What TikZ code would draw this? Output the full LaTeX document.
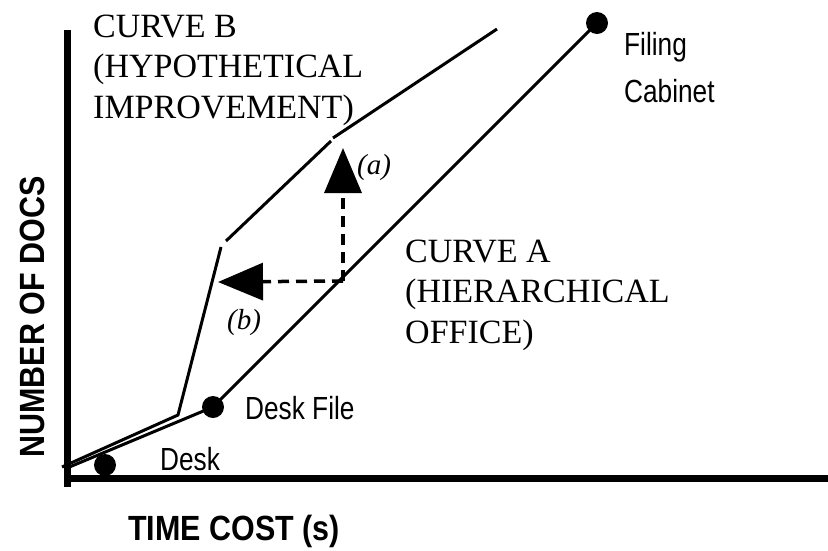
\documentclass[tikz,border=0pt]{standalone}
\usepackage{fontspec}
\setmainfont{Liberation Serif}
\newfontfamily\labelfont[FakeStretch=0.82]{Liberation Sans}
\newfontfamily\axisfont[FakeStretch=0.87]{Liberation Sans}
\usetikzlibrary{arrows.meta, positioning}

\tikzset{
  curve/.style={line width=3pt},
  axis/.style={line width=7pt},
  office/.style={circle, fill, inner sep=0pt, minimum size=22pt},
  move/.style={line width=3.5pt, dash pattern=on 11pt off 7pt, -{Triangle[length=45pt, width=37pt]}},
  curvelabel/.style={anchor=base west, inner sep=0pt, align=left, font=\fontsize{34}{40.5}\selectfont},
  itemlabel/.style={anchor=base west, inner sep=0pt, font=\labelfont\fontsize{32}{47}\selectfont},
  axislabel/.style={inner sep=0pt, font=\axisfont\bfseries\fontsize{35}{42}\selectfont},
  steplabel/.style={anchor=base west, inner sep=0pt, font=\itshape\fontsize{29}{30}\selectfont},
}

\begin{document}
\begin{tikzpicture}[x=1pt, y=-1pt]
    \useasboundingbox (0,0) rectangle (828,550);

    % axes
    \draw[axis] (67.5,30) -- (67.5,487);
    \draw[axis] (64,478) -- (828,478);

    % offices
    \coordinate (o) at (67,468);
    \node[office] (desk) at (105,465) {};
    \node[office] (deskfile) at (213,407) {};
    \node[office] (filing) at (597,23) {};

    % curve A
    \draw[curve] (o) -- (deskfile.center) -- (filing.center);

    % curve B
    \coordinate (b0) at (62,467);
    \coordinate (b1) at (178,415);
    \coordinate (b2) at (221,247);
    \coordinate (b3) at (226,241);
    \coordinate (b4) at (331,141);
    \coordinate (b5) at (333,138);
    \coordinate (b6) at (497,29);
    \draw[curve] (b0) -- (b1) -- (b2);
    \draw[curve] (b3) -- (b4);
    \draw[curve] (b5) -- (b6);

    % improvements
    \coordinate (corner) at (343,281);
    \coordinate (up) at (343,148);
    \coordinate (left) at (218,282);
    \draw[move] (corner) -- (up);
    \draw[move] (corner) -- (left);
    \node[steplabel] (a) at (357,174) {(a)};
    \node[steplabel] (b) at (227,329) {(b)};

    % last line sits on the given point
    \node[curvelabel] (curveb) at (93,118) {CURVE B\\(HYPOTHETICAL\\IMPROVEMENT)};
    \node[curvelabel] (curvea) at (405,343) {CURVE A\\(HIERARCHICAL\\OFFICE)};
    \node[itemlabel, align=left] (filinglabel) at (624,102) {Filing\\Cabinet};
    \node[itemlabel] (deskfilelabel) at (245,419) {Desk File};
    \node[itemlabel] (desklabel) at (160,470) {Desk};

    \node[axislabel, anchor=base west] (xlabel) at (128,540) {TIME COST (s)};
    \node[axislabel, rotate=90, anchor=base] (ylabel) at (45,317) {NUMBER OF DOCS};
\end{tikzpicture}
\end{document}
